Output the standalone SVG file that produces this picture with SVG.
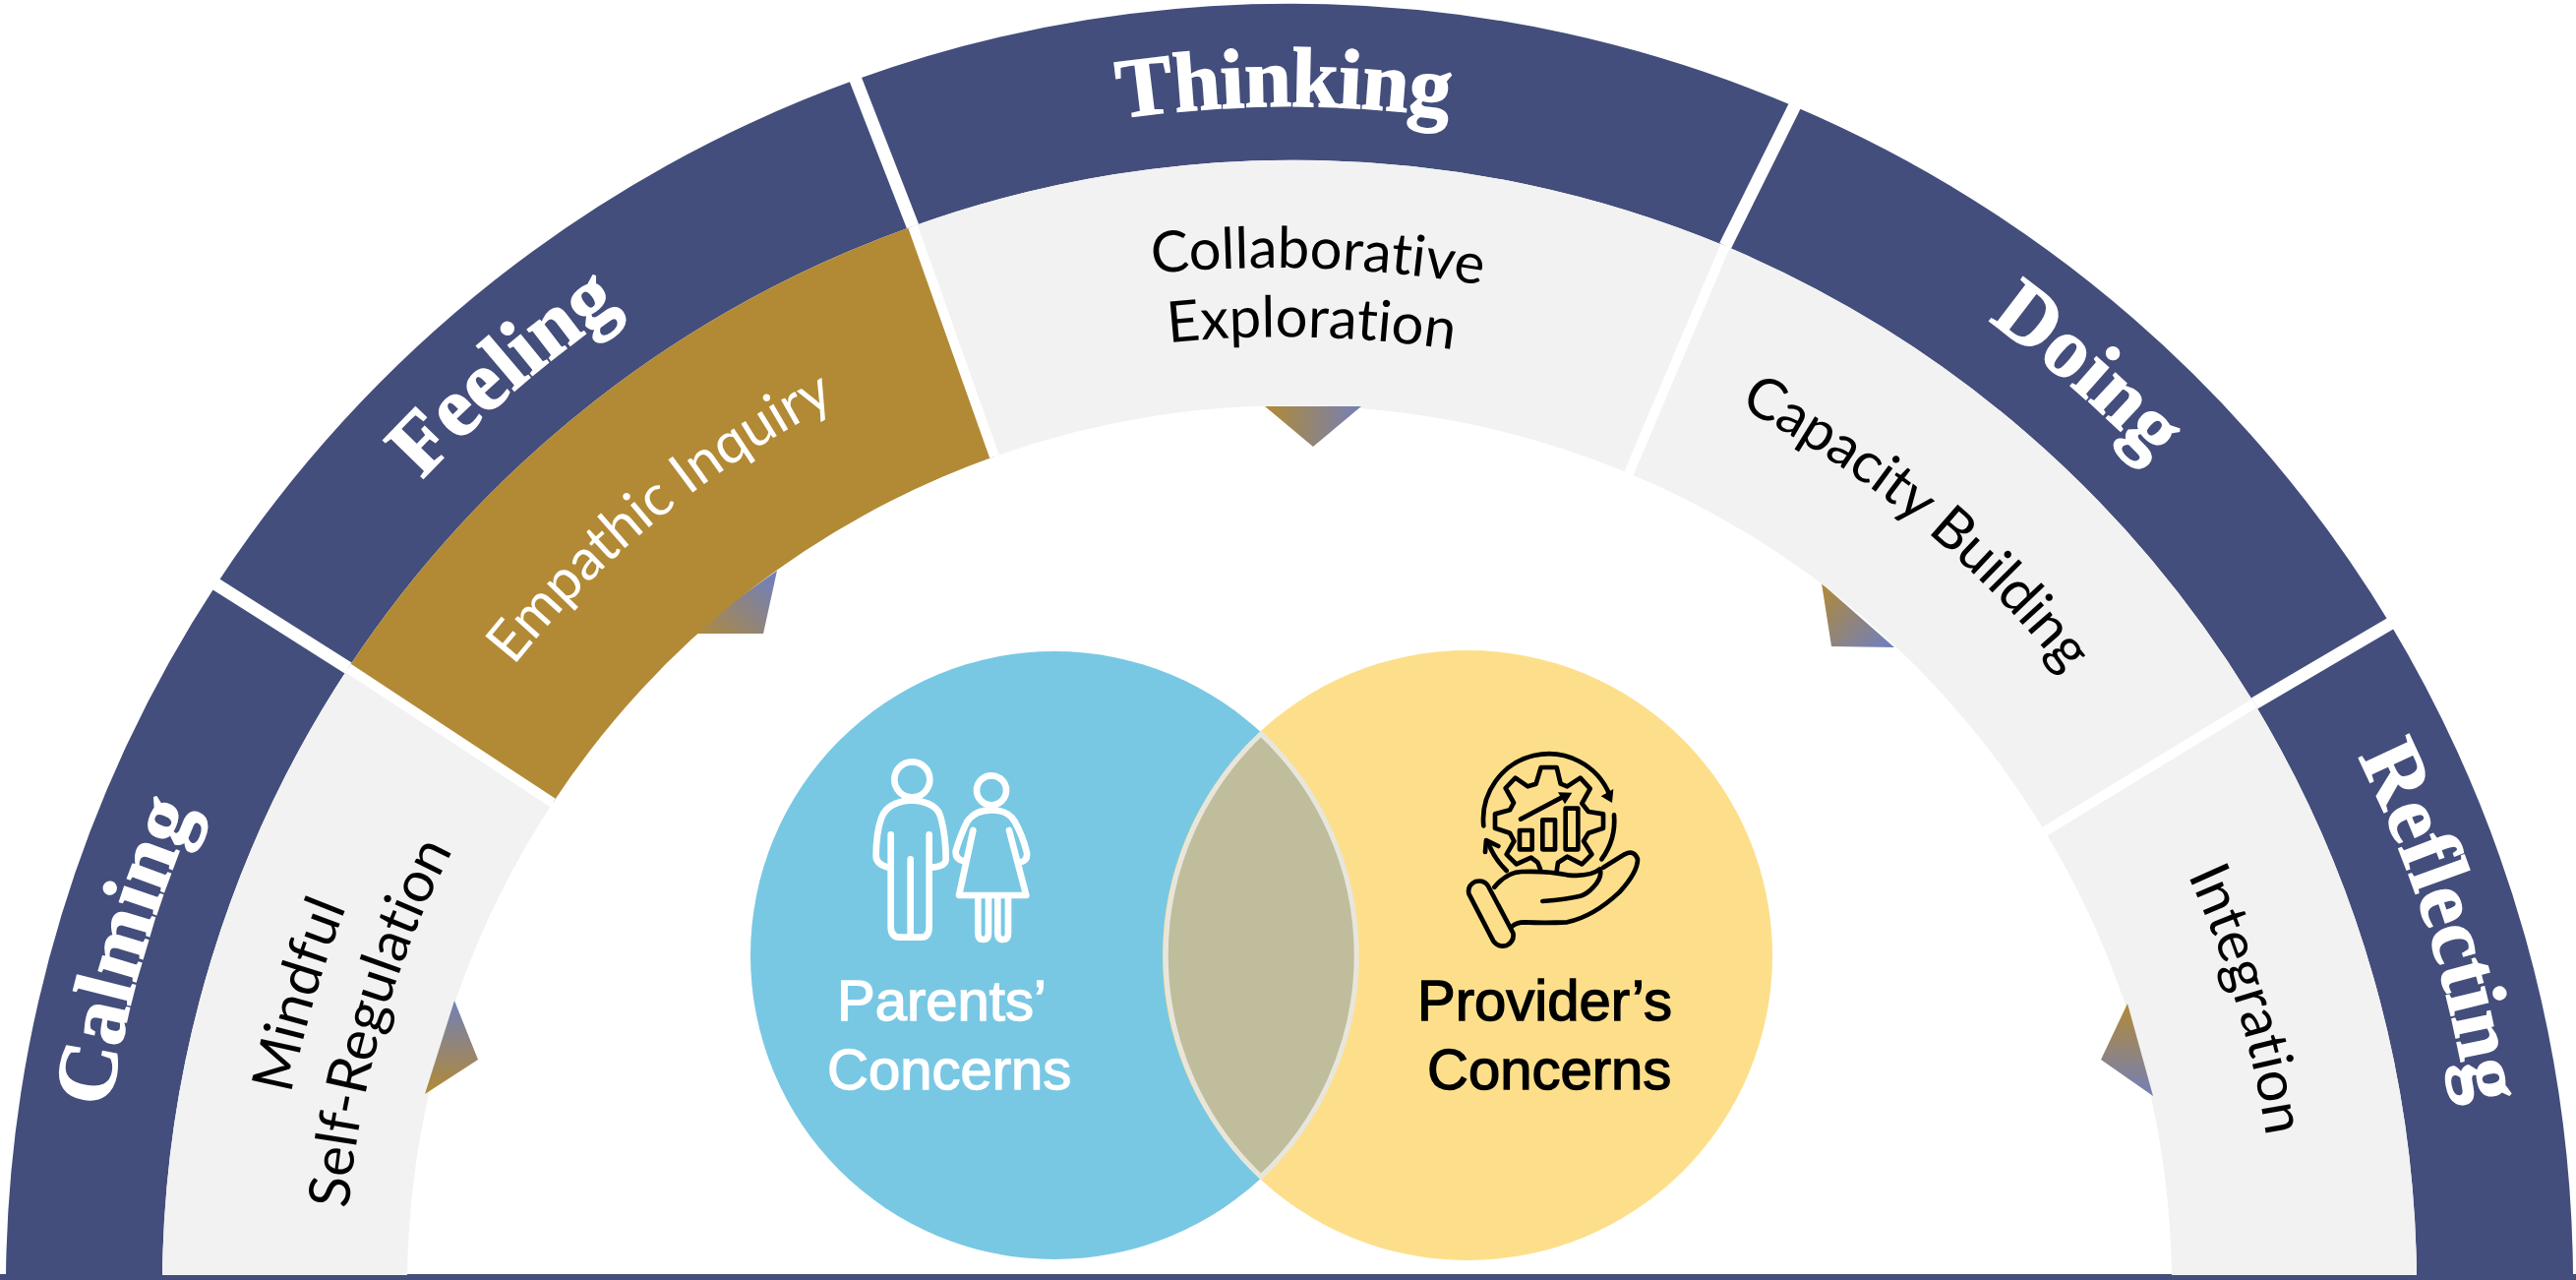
<svg xmlns="http://www.w3.org/2000/svg" width="2619" height="1301" viewBox="0 0 2619 1301">
<style>
.navy{fill:#434e7c}.gray{fill:#f2f2f2}.gold{fill:#b28a35}
.head{font-family:"Liberation Serif",serif;font-weight:700;font-size:86px;fill:#fff;stroke:#fff;stroke-width:1.5px;text-anchor:middle}
.lab{font-family:Lato,"Liberation Sans",sans-serif;font-size:58px;fill:#000;text-anchor:middle;font-variant-ligatures:none}
.ven{font-family:"Liberation Sans",Arial,sans-serif;font-size:58px;stroke-width:1.4px}
.w{fill:none;stroke:#fff;stroke-width:20;stroke-linecap:round;stroke-linejoin:round}
.k{fill:none;stroke:#000;stroke-width:14;stroke-linecap:round;stroke-linejoin:round}
.dn{fill:none;stroke:#fff;stroke-width:13}
.dg{fill:none;stroke:#fff;stroke-width:10}
</style>
<defs>
<linearGradient id="gH" x1="0" y1="0" x2="1" y2="0"><stop offset="0" stop-color="#b28a35"/><stop offset="1" stop-color="#7380b8"/></linearGradient>
<linearGradient id="gUp" x1="0" y1="1" x2="0" y2="0"><stop offset="0" stop-color="#b28a35"/><stop offset="1" stop-color="#7380b8"/></linearGradient>
<linearGradient id="gDn" x1="0" y1="0" x2="0" y2="1"><stop offset="0" stop-color="#b28a35"/><stop offset="1" stop-color="#7380b8"/></linearGradient>
<linearGradient id="gNE" x1="0" y1="1" x2="1" y2="0.2"><stop offset="0" stop-color="#b28a35"/><stop offset="1" stop-color="#7380b8"/></linearGradient>
<linearGradient id="gSE" x1="0" y1="0" x2="1" y2="0.8"><stop offset="0" stop-color="#b28a35"/><stop offset="1" stop-color="#7380b8"/></linearGradient>
<path id="rH" d="M110,1309A1201,1201 0 0 1 2512,1309"/>
<path id="r1213" d="M98,1309A1213,1213 0 0 1 2524,1309"/>
<path id="r1205" d="M106,1309A1205,1205 0 0 1 2516,1309"/>
<path id="r1011" d="M300,1309A1011,1011 0 0 1 2322,1309"/>
<path id="r1005" d="M306,1309A1005,1005 0 0 1 2316,1309"/>
<path id="r1034" d="M277,1309A1034,1034 0 0 1 2345,1309"/>
<path id="r960" d="M351,1309A960,960 0 0 1 2271,1309"/>
<path id="pColl" d="M1169,278Q1340,262 1509,290"/>
<path id="pExpl" d="M1191,348Q1330,334 1475,355"/>
</defs>
<g id="triangles">
<path d="M790,580L776,644L700,644Z" fill="url(#gNE)"/>
<path d="M1852,593L1862,657L1926,658Z" fill="url(#gSE)"/>
</g>
<rect id="base" x="0" y="1295" width="2619" height="6" class="navy"/>
<g id="calming">
<path class="navy" d="M6,1296A1305,1305 0 0 1 220,594L354,679A1146,1146 0 0 0 165,1296Z"/>
<path class="gray" d="M165,1296A1146,1146 0 0 1 354,679L562,816A897,897 0 0 0 414,1296Z"/>
<path d="M462,1017L486,1077L432,1112Z" fill="url(#gUp)"/>
<text class="head"><textPath href="#r1213" startOffset="8.95%">Calming</textPath></text>
<text class="lab"><textPath href="#r1034" startOffset="9.15%">Mindful</textPath></text>
<text class="lab" letter-spacing="-0.3"><textPath href="#r960" startOffset="9%">Self-Regulation</textPath></text>
</g>
<g id="feeling">
<path class="navy" d="M220,594A1305,1305 0 0 1 870,81L928,230A1146,1146 0 0 0 354,679Z"/>
<path class="gold" d="M354,679A1146,1146 0 0 1 928,230L1011,464A897,897 0 0 0 562,816Z"/>
<text class="head"><textPath href="#r1205" startOffset="27.4%">Feeling</textPath></text>
<text class="lab" style="fill:#fff" letter-spacing="-0.2"><textPath href="#r1011" startOffset="28.2%">Empathic Inquiry</textPath></text>
</g>
<g id="thinking">
<path class="navy" d="M870,81A1305,1305 0 0 1 1824,108L1754,250A1146,1146 0 0 0 928,230Z"/>
<path class="gray" d="M928,230A1146,1146 0 0 1 1754,250L1656,481A897,897 0 0 0 1011,464Z"/>
<text class="head" letter-spacing="-0.6"><textPath href="#rH" startOffset="49.85%">Thinking</textPath></text>
<text class="lab"><textPath href="#pColl" startOffset="50%">Collaborative</textPath></text>
<text class="lab"><textPath href="#pExpl" startOffset="50%">Exploration</textPath></text>
<path d="M1286,413H1384L1335,454Z" fill="url(#gH)"/>
</g>
<g id="doing">
<path class="navy" d="M1824,108A1305,1305 0 0 1 2430,634L2292,715A1146,1146 0 0 0 1754,250Z"/>
<path class="gray" d="M1754,250A1146,1146 0 0 1 2292,715L2079,845A897,897 0 0 0 1656,481Z"/>
<text class="head"><textPath href="#r1213" startOffset="72.8%">Doing</textPath></text>
<text class="lab" letter-spacing="-0.6"><textPath href="#r1005" startOffset="71.85%">Capacity Building</textPath></text>
</g>
<g id="reflecting">
<path class="navy" d="M2430,634A1305,1305 0 0 1 2616,1296H2457A1146,1146 0 0 0 2292,715Z"/>
<path class="gray" d="M2292,715A1146,1146 0 0 1 2457,1296H2208A897,897 0 0 0 2079,845Z"/>
<path d="M2163,1020L2136,1077L2189,1114Z" fill="url(#gDn)"/>
<text class="head"><textPath href="#r1213" startOffset="90.2%">Reflecting</textPath></text>
<text class="lab"><textPath href="#r1005" startOffset="90.7%">Integration</textPath></text>
</g>
<g id="dividers">
<path class="dn" d="M216,591.5L354,679"/><path class="dg" d="M354,679L562,816"/>
<path class="dn" d="M868,76L928,230"/><path class="dg" d="M928,230L1011,464"/>
<path class="dn" d="M1827,103L1754,250"/><path class="dg" d="M1754,250L1656,481"/>
<path class="dn" d="M2435,631L2292,715"/><path class="dg" d="M2292,715L2079,845"/>
</g>
<g id="parents">
<circle cx="1072" cy="971" r="309" fill="#78c8e4"/>
<g transform="translate(860 760) scale(.33333)">
<circle class="w" cx="202" cy="97" r="54"/>
<path class="w" d="M130,365Q92,355 92,330Q92,260 108,215Q125,165 200,160Q280,165 290,215Q305,270 305,340Q305,362 262,365"/>
<path class="w" d="M137,265V545Q137,578 165,578H230Q254,578 254,545V265"/>
<path class="w" d="M197,340V575"/>
<circle class="w" cx="444" cy="130" r="45"/>
<path class="w" d="M358,345Q333,340 335,315Q350,265 370,225Q395,190 443,190Q495,190 515,225Q540,270 552,320Q555,345 530,350"/>
<path class="w" d="M388,252L345,450H550L498,252"/>
<path class="w" d="M403,455V565Q403,585 419,585Q435,585 435,565V455"/>
<path class="w" d="M463,455V565Q463,585 479,585Q495,585 495,565V455"/>
</g>
<text class="ven" fill="#fff" stroke="#fff" x="851" y="1037">Parents’</text>
<text class="ven" fill="#fff" stroke="#fff" x="841" y="1107">Concerns</text>
</g>
<g id="providers">
<circle cx="1492" cy="971" r="310" fill="#fddf8b"/>
<g transform="translate(1460 740) scale(.33333)">
<path class="k" d="M145,298A200,200 0 0 1 530,205"/>
<path d="M503,208L541,186L537,228Z"/>
<path class="k" d="M543,265A200,200 0 0 1 505,400"/>
<path class="k" d="M215,435Q175,395 160,350"/>
<path class="k" d="M150,378L153,342L190,360"/>
<path class="k" d="M318,430L310,410L290,395L245,415L215,385L238,345L225,320L180,305V262L225,250L237,228L212,183L242,152L280,178L305,170L320,120H368L380,170L400,178L440,152L470,185L445,230L465,255L510,262V305L465,320L450,345L475,385L445,415L400,392L372,410L368,436"/>
<rect class="k" x="255" y="312" width="38" height="58"/>
<rect class="k" x="325" y="280" width="38" height="90"/>
<rect class="k" x="395" y="245" width="38" height="125"/>
<path class="k" d="M258,278L390,208"/>
<path d="M415,197L372,196L393,232Z"/>
<path class="k" d="M178,485Q215,440 260,438Q340,435 400,448Q470,455 500,430Q508,455 480,485Q460,507 440,512Q400,522 325,528"/>
<path class="k" d="M510,425L575,385Q605,370 615,400Q615,440 560,500Q480,575 400,592Q330,595 270,592Q245,592 232,605"/>
<path class="k" d="M100,505Q95,480 120,468Q145,462 158,480L235,625Q240,650 215,663Q190,670 175,650Z"/>
</g>
<text class="ven" fill="#000" stroke="#000" x="1441" y="1037">Provider’s</text>
<text class="ven" fill="#000" stroke="#000" x="1451" y="1107">Concerns</text>
</g>
<path id="overlap" d="M1282,746A309,309 0 0 1 1282,1196A310,310 0 0 1 1282,746Z" fill="#c0bd9c" stroke="#e8e6dc" stroke-width="5"/>
</svg>
